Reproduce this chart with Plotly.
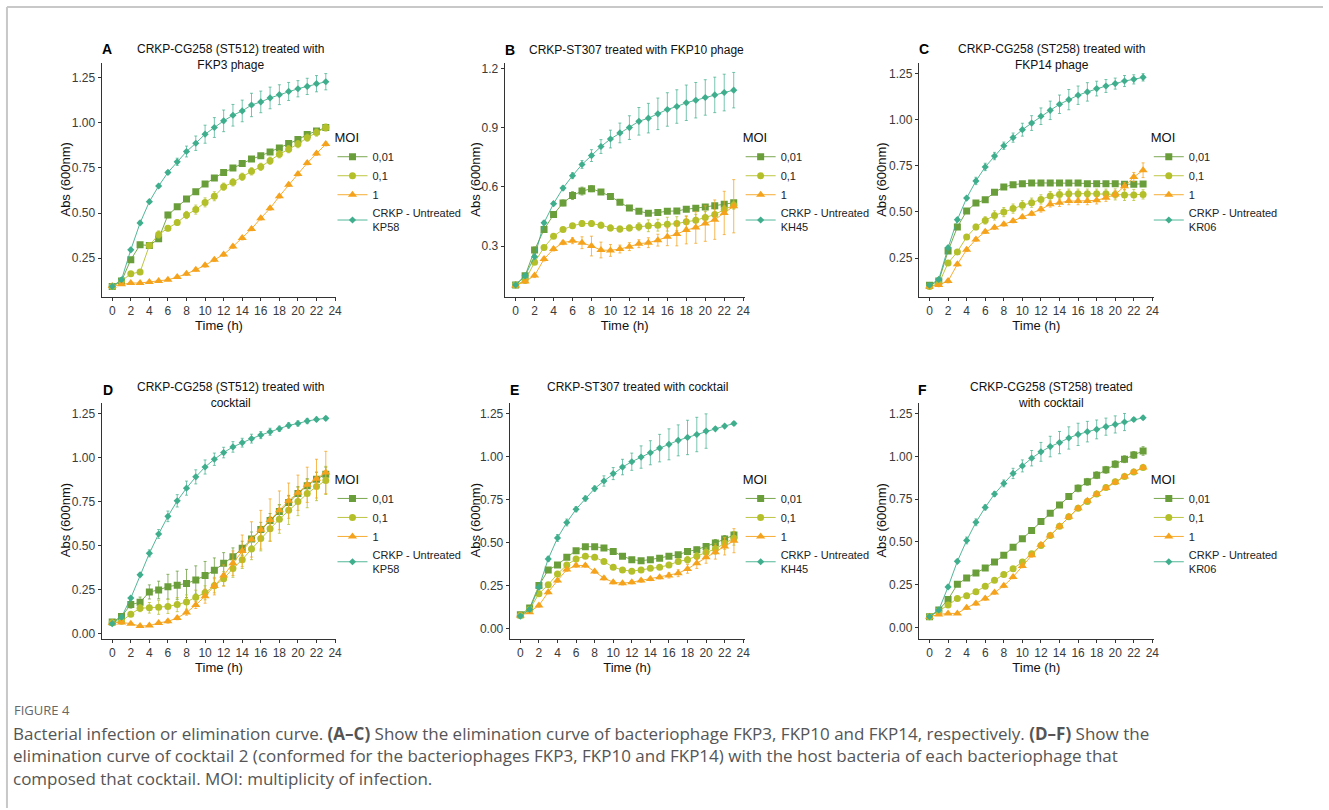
import plotly.graph_objects as go

W, H = 1329, 810

hours = list(range(24))
x_tick_vals = list(range(0, 25, 2))
moi_labels = ["0,01", "0,1", "1", "CRKP - Untreated"]
hosts = ["KP58", "KH45", "KR06", "KP58", "KH45", "KR06"]
tags = ["A", "B", "C", "D", "E", "F"]
titles = [
    "CRKP-CG258 (ST512) treated with<br>FKP3 phage",
    "CRKP-ST307 treated with FKP10 phage",
    "CRKP-CG258 (ST258) treated with<br>FKP14 phage",
    "CRKP-CG258 (ST512) treated with<br>cocktail",
    "CRKP-ST307 treated with cocktail",
    "CRKP-CG258 (ST258) treated<br>with cocktail",
]
y_tick_vals = [
    [0.25, 0.50, 0.75, 1.00, 1.25],
    [0.3, 0.6, 0.9, 1.2],
    [0.25, 0.50, 0.75, 1.00, 1.25],
    [0.00, 0.25, 0.50, 0.75, 1.00, 1.25],
    [0.00, 0.25, 0.50, 0.75, 1.00, 1.25],
    [0.00, 0.25, 0.50, 0.75, 1.00, 1.25],
]
y_tick_fmt = [".2f", ".1f", ".2f", ".2f", ".2f", ".2f"]
caption_lines = [
    "Bacterial infection or elimination curve. <b>(A–C)</b> Show the elimination curve of bacteriophage "
    "FKP3, FKP10 and FKP14, respectively. <b>(D–F)</b> Show the",
    "elimination curve of cocktail 2 (conformed for the bacteriophages FKP3, FKP10 and FKP14) with the "
    "host bacteria of each bacteriophage that",
    "composed that cocktail. MOI: multiplicity of infection.",
]

# ---------------- Panel A ----------------
a_001 = [0.093, 0.123, 0.241, 0.324, 0.320, 0.357, 0.489, 0.535, 0.578, 0.618, 0.661, 0.694,
         0.725, 0.749, 0.775, 0.799, 0.817, 0.839, 0.860, 0.885, 0.907, 0.935, 0.955, 0.974]
a_001_err = [0.005, 0.008, 0.01, 0.01, 0.01, 0.015, 0.015, 0.012, 0.012, 0.012, 0.012, 0.01,
             0.01, 0.01, 0.01, 0.01, 0.01, 0.01, 0.01, 0.01, 0.01, 0.01, 0.01, 0.012]
a_01 = [0.093, 0.123, 0.163, 0.173, 0.320, 0.381, 0.416, 0.447, 0.489, 0.519, 0.559, 0.593,
        0.646, 0.670, 0.701, 0.731, 0.756, 0.790, 0.826, 0.854, 0.882, 0.918, 0.946, 0.974]
a_01_err = [0.005, 0.008, 0.01, 0.01, 0.01, 0.02, 0.015, 0.015, 0.02, 0.025, 0.025, 0.025,
            0.02, 0.02, 0.02, 0.02, 0.02, 0.02, 0.02, 0.02, 0.02, 0.02, 0.02, 0.02]
a_1 = [0.095, 0.105, 0.112, 0.112, 0.117, 0.123, 0.130, 0.145, 0.163, 0.186, 0.210, 0.241,
       0.270, 0.314, 0.361, 0.412, 0.471, 0.526, 0.593, 0.657, 0.716, 0.777, 0.830, 0.882]
a_1_err = [0.005, 0.005, 0.005, 0.005, 0.005, 0.005, 0.005, 0.008, 0.008, 0.008, 0.01, 0.01,
           0.01, 0.01, 0.01, 0.01, 0.01, 0.01, 0.01, 0.01, 0.01, 0.01, 0.01, 0.01]
a_un = [0.093, 0.130, 0.296, 0.445, 0.563, 0.650, 0.725, 0.784, 0.841, 0.887, 0.937, 0.974,
        1.011, 1.042, 1.066, 1.099, 1.116, 1.138, 1.156, 1.174, 1.189, 1.202, 1.217, 1.228]
a_un_err = [0.005, 0.01, 0.01, 0.01, 0.01, 0.01, 0.01, 0.02, 0.03, 0.04, 0.05, 0.055,
            0.06, 0.06, 0.06, 0.065, 0.06, 0.06, 0.055, 0.05, 0.045, 0.045, 0.045, 0.045]

# ---------------- Panel B ----------------
b_001 = [0.103, 0.149, 0.280, 0.384, 0.460, 0.519, 0.556, 0.579, 0.591, 0.574, 0.552, 0.522,
         0.493, 0.477, 0.466, 0.470, 0.477, 0.478, 0.487, 0.492, 0.498, 0.505, 0.512, 0.520]
b_001_err = [0.005, 0.01, 0.015, 0.015, 0.015, 0.015, 0.02, 0.02, 0.015, 0.01, 0.01, 0.01,
             0.01, 0.01, 0.01, 0.01, 0.01, 0.01, 0.01, 0.01, 0.01, 0.01, 0.01, 0.01]
b_01 = [0.103, 0.125, 0.218, 0.293, 0.350, 0.384, 0.403, 0.414, 0.414, 0.406, 0.392, 0.386,
        0.392, 0.398, 0.403, 0.406, 0.411, 0.414, 0.423, 0.431, 0.445, 0.460, 0.485, 0.507]
b_01_err = [0.005, 0.01, 0.01, 0.01, 0.01, 0.01, 0.01, 0.015, 0.015, 0.015, 0.015, 0.015,
            0.015, 0.02, 0.03, 0.03, 0.035, 0.035, 0.03, 0.03, 0.03, 0.025, 0.02, 0.02]
b_1 = [0.100, 0.120, 0.150, 0.234, 0.285, 0.317, 0.327, 0.317, 0.300, 0.280, 0.278, 0.285,
       0.297, 0.312, 0.317, 0.330, 0.347, 0.361, 0.381, 0.394, 0.414, 0.434, 0.468, 0.502]
b_1_err = [0.005, 0.005, 0.01, 0.01, 0.01, 0.01, 0.015, 0.03, 0.05, 0.04, 0.03, 0.02,
           0.02, 0.02, 0.025, 0.03, 0.045, 0.06, 0.07, 0.08, 0.09, 0.1, 0.11, 0.135]
b_un = [0.103, 0.149, 0.246, 0.418, 0.515, 0.594, 0.657, 0.714, 0.759, 0.805, 0.843, 0.874,
        0.901, 0.933, 0.949, 0.971, 0.993, 1.008, 1.027, 1.040, 1.054, 1.067, 1.079, 1.091]
b_un_err = [0.005, 0.01, 0.01, 0.01, 0.01, 0.01, 0.015, 0.02, 0.03, 0.035, 0.045, 0.05,
            0.06, 0.07, 0.075, 0.08, 0.085, 0.085, 0.09, 0.09, 0.09, 0.09, 0.093, 0.09]

# ---------------- Panel C ----------------
c_001 = [0.102, 0.125, 0.288, 0.418, 0.505, 0.548, 0.566, 0.606, 0.635, 0.648, 0.653, 0.657,
         0.657, 0.657, 0.657, 0.657, 0.657, 0.653, 0.653, 0.653, 0.653, 0.650, 0.650, 0.652]
c_001_err = [0.005, 0.008, 0.01, 0.01, 0.01, 0.01, 0.01, 0.01, 0.01, 0.01, 0.01, 0.01,
             0.01, 0.01, 0.01, 0.01, 0.01, 0.01, 0.01, 0.01, 0.01, 0.01, 0.01, 0.01]
c_01 = [0.096, 0.111, 0.223, 0.283, 0.364, 0.418, 0.454, 0.481, 0.499, 0.518, 0.536, 0.550,
        0.568, 0.586, 0.595, 0.599, 0.599, 0.599, 0.599, 0.599, 0.595, 0.592, 0.592, 0.595]
c_01_err = [0.005, 0.005, 0.01, 0.01, 0.01, 0.015, 0.02, 0.025, 0.025, 0.025, 0.025, 0.025,
            0.025, 0.025, 0.025, 0.025, 0.025, 0.025, 0.025, 0.025, 0.03, 0.03, 0.03, 0.025]
c_1 = [0.096, 0.104, 0.125, 0.216, 0.295, 0.351, 0.393, 0.415, 0.433, 0.451, 0.472, 0.490,
       0.514, 0.541, 0.550, 0.559, 0.559, 0.559, 0.563, 0.577, 0.595, 0.639, 0.689, 0.726]
c_1_err = [0.005, 0.005, 0.01, 0.01, 0.01, 0.01, 0.01, 0.01, 0.01, 0.01, 0.01, 0.01,
           0.015, 0.015, 0.02, 0.02, 0.02, 0.02, 0.02, 0.02, 0.02, 0.02, 0.025, 0.04]
c_un = [0.102, 0.134, 0.306, 0.458, 0.575, 0.668, 0.744, 0.803, 0.859, 0.903, 0.946, 0.982,
        1.019, 1.051, 1.084, 1.109, 1.133, 1.151, 1.169, 1.183, 1.196, 1.210, 1.219, 1.230]
c_un_err = [0.005, 0.01, 0.01, 0.01, 0.01, 0.02, 0.02, 0.02, 0.02, 0.025, 0.035, 0.04,
            0.045, 0.05, 0.05, 0.055, 0.05, 0.05, 0.04, 0.035, 0.03, 0.03, 0.025, 0.02]

# ---------------- Panel D ----------------
d_001 = [0.066, 0.098, 0.165, 0.178, 0.237, 0.248, 0.267, 0.275, 0.285, 0.305, 0.330, 0.360,
         0.400, 0.437, 0.485, 0.537, 0.592, 0.642, 0.693, 0.745, 0.795, 0.840, 0.877, 0.905]
d_001_err = [0.005, 0.01, 0.02, 0.03, 0.04, 0.05, 0.07, 0.08, 0.08, 0.08, 0.08, 0.07,
             0.06, 0.05, 0.04, 0.04, 0.04, 0.04, 0.04, 0.04, 0.04, 0.04, 0.04, 0.04]
d_01 = [0.062, 0.070, 0.111, 0.145, 0.147, 0.150, 0.155, 0.165, 0.180, 0.207, 0.232, 0.272,
        0.312, 0.370, 0.420, 0.480, 0.540, 0.595, 0.650, 0.700, 0.750, 0.795, 0.835, 0.870]
d_01_err = [0.005, 0.01, 0.01, 0.02, 0.03, 0.04, 0.04, 0.04, 0.04, 0.04, 0.04, 0.04,
            0.04, 0.05, 0.05, 0.06, 0.07, 0.07, 0.08, 0.08, 0.08, 0.08, 0.08, 0.08]
d_1 = [0.061, 0.064, 0.057, 0.043, 0.046, 0.061, 0.070, 0.089, 0.120, 0.163, 0.213, 0.270,
       0.330, 0.400, 0.470, 0.535, 0.590, 0.645, 0.700, 0.755, 0.800, 0.845, 0.880, 0.915]
d_1_err = [0.005, 0.005, 0.005, 0.005, 0.005, 0.005, 0.01, 0.01, 0.015, 0.02, 0.04, 0.05,
           0.06, 0.07, 0.09, 0.1, 0.11, 0.12, 0.11, 0.1, 0.1, 0.1, 0.11, 0.12]
d_un = [0.057, 0.094, 0.202, 0.334, 0.456, 0.566, 0.666, 0.754, 0.826, 0.890, 0.946, 0.990,
        1.028, 1.060, 1.084, 1.107, 1.127, 1.146, 1.163, 1.182, 1.193, 1.207, 1.216, 1.222]
d_un_err = [0.005, 0.01, 0.01, 0.01, 0.02, 0.025, 0.03, 0.035, 0.04, 0.04, 0.04, 0.035,
            0.03, 0.03, 0.025, 0.025, 0.02, 0.02, 0.015, 0.015, 0.015, 0.015, 0.012, 0.01]

# ---------------- Panel E ----------------
e_001 = [0.081, 0.120, 0.251, 0.341, 0.370, 0.415, 0.453, 0.476, 0.476, 0.469, 0.449, 0.421,
         0.401, 0.395, 0.401, 0.409, 0.421, 0.430, 0.448, 0.459, 0.478, 0.498, 0.521, 0.544]
e_001_err = [0.005, 0.01, 0.01, 0.01, 0.01, 0.01, 0.01, 0.01, 0.01, 0.01, 0.01, 0.01,
             0.01, 0.01, 0.01, 0.01, 0.01, 0.01, 0.012, 0.015, 0.015, 0.02, 0.02, 0.02]
e_01 = [0.077, 0.112, 0.203, 0.255, 0.318, 0.370, 0.405, 0.421, 0.415, 0.390, 0.357, 0.341,
        0.334, 0.341, 0.351, 0.357, 0.370, 0.390, 0.401, 0.421, 0.444, 0.463, 0.496, 0.525]
e_01_err = [0.005, 0.01, 0.01, 0.01, 0.01, 0.01, 0.01, 0.01, 0.01, 0.01, 0.01, 0.01,
            0.01, 0.01, 0.01, 0.01, 0.015, 0.015, 0.02, 0.02, 0.025, 0.03, 0.035, 0.04]
e_1 = [0.077, 0.096, 0.135, 0.212, 0.280, 0.343, 0.367, 0.367, 0.332, 0.293, 0.270, 0.264,
       0.270, 0.280, 0.289, 0.299, 0.309, 0.322, 0.347, 0.380, 0.415, 0.444, 0.478, 0.511]
e_1_err = [0.005, 0.005, 0.01, 0.01, 0.01, 0.01, 0.01, 0.01, 0.01, 0.01, 0.01, 0.01,
           0.01, 0.01, 0.01, 0.01, 0.015, 0.02, 0.025, 0.03, 0.035, 0.04, 0.05, 0.07]
e_un = [0.073, 0.112, 0.241, 0.405, 0.527, 0.617, 0.694, 0.756, 0.814, 0.858, 0.901, 0.939,
        0.970, 0.997, 1.022, 1.049, 1.071, 1.094, 1.111, 1.128, 1.148, 1.161, 1.177, 1.192]
e_un_err = [0.005, 0.01, 0.01, 0.015, 0.02, 0.02, 0.015, 0.015, 0.015, 0.03, 0.035, 0.045,
            0.05, 0.065, 0.07, 0.08, 0.09, 0.09, 0.1, 0.1, 0.1, 0.01, 0.01, 0.01]

# ---------------- Panel F ----------------
f_001 = [0.064, 0.103, 0.164, 0.253, 0.290, 0.319, 0.348, 0.383, 0.422, 0.470, 0.519, 0.567,
         0.619, 0.668, 0.716, 0.766, 0.813, 0.851, 0.890, 0.921, 0.954, 0.983, 1.008, 1.031]
f_001_err = [0.005, 0.01, 0.01, 0.01, 0.01, 0.01, 0.01, 0.01, 0.01, 0.01, 0.01, 0.01,
             0.01, 0.01, 0.015, 0.015, 0.02, 0.02, 0.02, 0.02, 0.02, 0.02, 0.02, 0.025]
f_01 = [0.064, 0.097, 0.132, 0.170, 0.186, 0.209, 0.242, 0.277, 0.310, 0.344, 0.383, 0.431,
        0.480, 0.538, 0.592, 0.648, 0.697, 0.737, 0.780, 0.818, 0.851, 0.882, 0.909, 0.934]
f_01_err = [0.005, 0.01, 0.01, 0.01, 0.01, 0.01, 0.01, 0.01, 0.01, 0.01, 0.01, 0.01,
            0.01, 0.01, 0.01, 0.01, 0.01, 0.01, 0.01, 0.01, 0.01, 0.01, 0.01, 0.01]
f_1 = [0.064, 0.077, 0.083, 0.083, 0.116, 0.141, 0.170, 0.205, 0.244, 0.296, 0.360, 0.422,
       0.484, 0.538, 0.592, 0.648, 0.697, 0.741, 0.780, 0.815, 0.848, 0.882, 0.909, 0.934]
f_1_err = [0.005, 0.005, 0.005, 0.005, 0.01, 0.01, 0.01, 0.01, 0.01, 0.01, 0.01, 0.01,
           0.01, 0.01, 0.01, 0.01, 0.01, 0.01, 0.01, 0.01, 0.01, 0.01, 0.01, 0.01]
f_un = [0.064, 0.103, 0.238, 0.387, 0.509, 0.615, 0.702, 0.780, 0.842, 0.900, 0.944, 0.989,
        1.026, 1.057, 1.080, 1.107, 1.128, 1.144, 1.157, 1.173, 1.186, 1.200, 1.215, 1.225]
f_un_err = [0.005, 0.01, 0.01, 0.01, 0.02, 0.02, 0.015, 0.015, 0.02, 0.03, 0.035, 0.045,
            0.055, 0.06, 0.065, 0.065, 0.065, 0.06, 0.055, 0.05, 0.05, 0.05, 0.01, 0.01]

panel_means = [
    [a_001, a_01, a_1, a_un],
    [b_001, b_01, b_1, b_un],
    [c_001, c_01, c_1, c_un],
    [d_001, d_01, d_1, d_un],
    [e_001, e_01, e_1, e_un],
    [f_001, f_01, f_1, f_un],
]
panel_errs = [
    [a_001_err, a_01_err, a_1_err, a_un_err],
    [b_001_err, b_01_err, b_1_err, b_un_err],
    [c_001_err, c_01_err, c_1_err, c_un_err],
    [d_001_err, d_01_err, d_1_err, d_un_err],
    [e_001_err, e_01_err, e_1_err, e_un_err],
    [f_001_err, f_01_err, f_1_err, f_un_err],
]

# ---------------- styling / layout (pixel positions) ----------------
FONT = "Arial"
colors = ["#6a9e3b", "#b4c02a", "#f5a31c", "#3fae8c"]
err_colors = ["rgba(106,158,59,0.75)", "rgba(180,192,42,0.75)",
              "rgba(245,163,28,0.75)", "rgba(63,174,140,0.7)"]
symbols = ["square", "circle", "triangle-up", "diamond"]
msizes = [7, 7, 8, 5.5]

# plot areas in pixels: (left, right, top, bottom)
areas = [
    (102, 338, 62, 297),
    (507, 748, 62, 297),
    (923, 1159, 62, 297),
    (102, 338, 403, 640),
    (512, 748, 403, 640),
    (923, 1159, 403, 640),
]
y_ranges = [
    [0.035, 1.333],
    [0.042, 1.230],
    [0.039, 1.309],
    [-0.028, 1.312],
    [-0.058, 1.314],
    [-0.064, 1.314],
]
x_range = [-1.15, 24.15]
tag_pos = [(107, 48), (512, 49), (928, 48), (108, 390), (517, 390), (927, 390)]
title_pos = [(232, 56), (639, 49), (1056, 56), (232, 395), (640, 387), (1056, 395)]
ytitle_x = [66, 478, 886, 66, 478, 886]
legend_pos = [(334, 183), (744, 183), (1154, 183), (334, 526), (744, 526), (1154, 526)]
caption_y = [735, 757.5, 780]


def px(x):
    return x / W


def py(y):
    return 1 - y / H


fig = go.Figure()
annotations = []
layout = {}

for i in range(6):
    sfx = "" if i == 0 else str(i + 1)
    xa, ya = "x" + sfx, "y" + sfx
    leg = "legend" + sfx
    for k in range(4):
        name = moi_labels[k] if k < 3 else moi_labels[k] + "<br>" + hosts[i]
        fig.add_trace(go.Scatter(
            x=hours, y=panel_means[i][k],
            error_y=dict(type="data", array=panel_errs[i][k], visible=True,
                         color=err_colors[k], thickness=1, width=1.5),
            mode="lines+markers", name=name,
            line=dict(color=colors[k], width=0.9),
            marker=dict(symbol=symbols[k], size=msizes[k], color=colors[k]),
            xaxis=xa, yaxis=ya, legend=leg, showlegend=True,
        ))
    l, r, t, b = areas[i]
    layout["xaxis" + sfx] = dict(
        domain=[px(l), px(r)], anchor=ya, range=x_range,
        tickmode="array", tickvals=x_tick_vals,
        showline=True, linecolor="#333333", linewidth=1,
        ticks="outside", ticklen=3, tickcolor="#333333",
        showgrid=False, zeroline=False,
        tickfont=dict(family=FONT, size=12, color="#3a3a3a"),
        title=dict(text="Time (h)", font=dict(family=FONT, size=13, color="#111"),
                   standoff=3),
    )
    layout["yaxis" + sfx] = dict(
        domain=[py(b), py(t)], anchor=xa, range=y_ranges[i],
        tickmode="array", tickvals=y_tick_vals[i], tickformat=y_tick_fmt[i],
        showline=True, linecolor="#333333", linewidth=1,
        ticks="outside", ticklen=3, tickcolor="#333333",
        showgrid=False, zeroline=False,
        tickfont=dict(family=FONT, size=12, color="#3a3a3a"),
    )
    lx, ly = legend_pos[i]
    layout[leg] = dict(
        x=px(lx), y=py(ly), xanchor="left", yanchor="middle",
        bgcolor="rgba(0,0,0,0)",
        title=dict(text="MOI", font=dict(family=FONT, size=13, color="#111")),
        font=dict(family=FONT, size=11, color="#222"),
        tracegroupgap=0,
    )
    tx, ty = tag_pos[i]
    annotations.append(dict(x=px(tx), y=py(ty), xref="paper", yref="paper", text="<b>" + tags[i] + "</b>",
                            showarrow=False, xanchor="center", yanchor="middle",
                            font=dict(family=FONT, size=14, color="#000")))
    tx, ty = title_pos[i]
    annotations.append(dict(x=px(tx), y=py(ty), xref="paper", yref="paper", text=titles[i],
                            showarrow=False, xanchor="center", yanchor="middle",
                            font=dict(family=FONT, size=12, color="#111")))
    annotations.append(dict(x=px(ytitle_x[i]), y=py((t + b) / 2), xref="paper", yref="paper",
                            text="Abs (600nm)", textangle=-90, showarrow=False,
                            xanchor="center", yanchor="middle",
                            font=dict(family=FONT, size=13, color="#111")))

# caption
annotations.append(dict(x=px(12), y=py(712), xref="paper", yref="paper", text="FIGURE 4",
                        showarrow=False, xanchor="left", yanchor="middle",
                        font=dict(family="Open Sans", size=13, color="#666")))
for line, cy in zip(caption_lines, caption_y):
    annotations.append(dict(x=px(12), y=py(cy), xref="paper", yref="paper", text=line,
                            showarrow=False, xanchor="left", yanchor="middle", align="left",
                            borderpad=0,
                            font=dict(family="Open Sans", size=17, color="#555")))

shapes = [
    dict(type="line", xref="paper", yref="paper", x0=px(7), x1=1, y0=py(6), y1=py(6),
         line=dict(color="#c8c8c8", width=2)),
    dict(type="line", xref="paper", yref="paper", x0=px(7), x1=px(7), y0=py(6), y1=0,
         line=dict(color="#c8c8c8", width=2)),
]

fig.update_layout(
    width=W, height=H, margin=dict(l=0, r=0, t=0, b=0),
    paper_bgcolor="white", plot_bgcolor="white",
    annotations=annotations, shapes=shapes, **layout,
)

fig.write_html("out.html", config={"displayModeBar": False},
               post_script="document.body.style.margin='0';document.body.style.overflow='hidden';")
